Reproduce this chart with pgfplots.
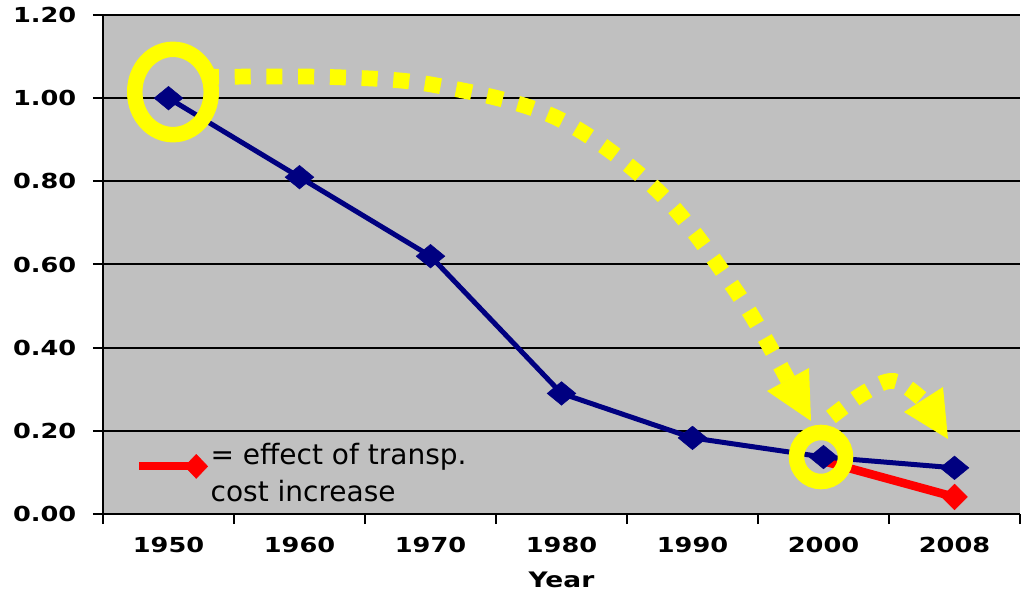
\documentclass[border=0pt]{standalone}
\usepackage{pgfplots}
\usepackage{pgfplotstable}
\pgfplotsset{compat=1.18}
\usepackage{fontspec}
\setmainfont{DejaVu Sans}
\newfontfamily\tickfont{DejaVu Sans Bold}[FakeStretch=1.24]
\definecolor{plotgray}{HTML}{C0C0C0}
\definecolor{navyblue}{HTML}{000080}
\definecolor{yel}{HTML}{FFFF00}

\pgfplotstableread{
x y
0 1.00
1 0.81
2 0.62
3 0.29
4 0.183
5 0.137
6 0.111
}\bluedata
\pgfplotstableread{
x y
5 0.127
6 0.041
}\reddata

\begin{document}
\begin{tikzpicture}
\begin{axis}[
  name=ax,
  scale only axis,
  width=687.75pt, height=374.25pt,
  xmin=-0.5, xmax=6.5, ymin=0, ymax=1.2,
  axis background/.style={fill=plotgray},
  axis x line*=bottom, axis y line*=left,
  axis line style={line width=2pt, -},
  xtick={-0.5,0.5,...,6.5},
  xticklabels={},
  extra x ticks={0,1,2,3,4,5,6},
  extra x tick labels={1950,1960,1970,1980,1990,2000,2008},
  extra x tick style={major tick length=0pt},
  ytick={0,0.2,0.4,0.6,0.8,1.0,1.2},
  yticklabels={0.00,0.20,0.40,0.60,0.80,1.00,1.20},
  ymajorgrids,
  grid style={black, line width=1.5pt},
  tick align=outside,
  major tick length=7.5pt,
  tick style={black, line width=1.5pt},
  ticklabel style={font=\tickfont\fontsize{15.5pt}{18pt}\selectfont},
  xticklabel style={yshift=-14pt},
  yticklabel style={xshift=-9pt},
  xlabel={Year},
  xlabel style={font=\tickfont\fontsize{16pt}{18pt}\selectfont},
  legend style={at={(axis cs:-0.256,0.178)}, anchor=north west, draw=none, fill=none,
    inner sep=0pt, font=\fontsize{21pt}{27.75pt}\selectfont, cells={align=left}},
  legend cell align=left,
]
\addplot[red, line width=6.4pt, mark=square*, mark size=6.8pt, mark indices={2},
  mark options={solid, line width=0.4pt, rotate=45}, forget plot] table {\reddata};
\addplot[navyblue, line width=3.75pt, mark=square*, mark size=7.6pt,
  mark options={solid, line width=0.4pt, yscale=0.82, rotate=45}, forget plot] table {\bluedata};
\addlegendimage{legend image code/.code={
  \draw[red, line width=6pt] (-6.75pt,5pt) -- (36pt,5pt);
  \fill[red] (36pt,14pt) -- (44.6pt,5pt) -- (36pt,-4pt) -- (27.4pt,5pt) -- cycle;
}}
\addlegendentry{= effect of transp.\\cost increase}
\end{axis}
\begin{scope}[shift={(ax.south west)}, xshift=-77.25pt, yshift=385.5pt, x=0.75pt, y=-0.75pt]
  \draw[yel, line width=11.6pt] (173,92) ellipse [x radius=28.7pt, y radius=32pt];
  \draw[yel, line width=11.6pt] (821,457) circle [radius=18.4pt];
  \draw[yel, line width=11.8pt, dash pattern=on 12pt off 11.8pt]
    plot[smooth, tension=0.55] coordinates {(203,77) (330,77) (434,85) (557,118) (660,193) (738,294) (788,380)};
  \fill[yel] (767,391) -- (809,368) -- (811,421) -- cycle;
  \draw[yel, line width=11.8pt, dash pattern=on 12pt off 10.5pt]
    plot[smooth, tension=0.6] coordinates {(831,417) (864,393) (894,381) (923,400)};
  \fill[yel] (904,412) -- (943,387) -- (948,439) -- cycle;
\end{scope}
\pgfresetboundingbox
\path ([shift={(-77.25pt,-59.25pt)}]ax.south west) rectangle ([shift={(0.75pt,11.25pt)}]ax.north east);
\end{tikzpicture}
\end{document}
